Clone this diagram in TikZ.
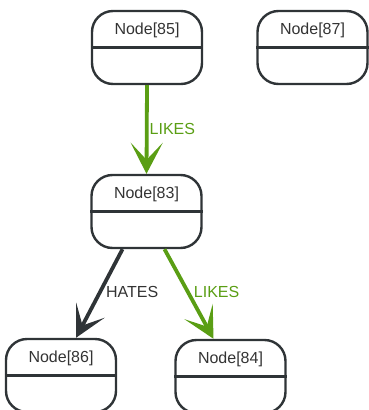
\documentclass[tikz,border=0pt]{standalone}
\usepackage{fontspec}
\setmainfont{Liberation Sans}
\usepackage{tikz}
\usetikzlibrary{arrows.meta,positioning,calc}
\usepackage{xcolor}
\definecolor{likesgreen}{HTML}{5A9E14}
\definecolor{darkline}{HTML}{2F3437}
\definecolor{labeltext}{HTML}{333333}

\begin{document}
\begin{tikzpicture}[x=1pt, y=-1pt,
    graphnode/.style={draw=darkline, line width=2.4pt, rounded corners=21pt,
      minimum width=110pt, minimum height=73pt, inner sep=0pt},
    rel/.style={line width=3.8pt, -{Stealth[length=31pt, width=32pt, inset=17pt]}},
    rellabel/.style={anchor=west, inner sep=1pt, font=\fontsize{16}{18}\selectfont},
    nodetext/.style={text=labeltext, inner sep=0pt, font=\fontsize{16}{18}\selectfont}]
  \useasboundingbox (0,0) rectangle (368,410);
  % boxes
  \foreach \name/\x/\y/\txt in {n85/147/47.5/Node[85], n87/312.5/47.5/Node[87],
      n83/146.5/211.5/Node[83], n86/61/375.5/Node[86], n84/230.5/376.5/Node[84]} {
    \node[graphnode] (\name) at (\x,\y) {};
    \draw[darkline, line width=2.4pt] (\name.west) -- (\name.east);
    \node[nodetext] (\name-title) at ($(\name.north)!0.55!(\name.center)$) {\txt};
  }
  % relationships
  \draw[rel, likesgreen] (n85.south) -- (n83.north)
    node[rellabel, text=likesgreen, pos=0.49] (likes1) {LIKES};
  \draw[rel, darkline] ($(n83.south)+(-24,0)$) -- ($(n86.north)+(15,0)$)
    node[rellabel, text=labeltext, pos=0.48, inner sep=4pt] (hates) {HATES};
  \draw[rel, likesgreen] ($(n83.south)+(18,0)$) -- ($(n84.north)+(-17,0)$)
    node[rellabel, text=likesgreen, pos=0.48, inner sep=4pt] (likes2) {LIKES};
\end{tikzpicture}
\end{document}
